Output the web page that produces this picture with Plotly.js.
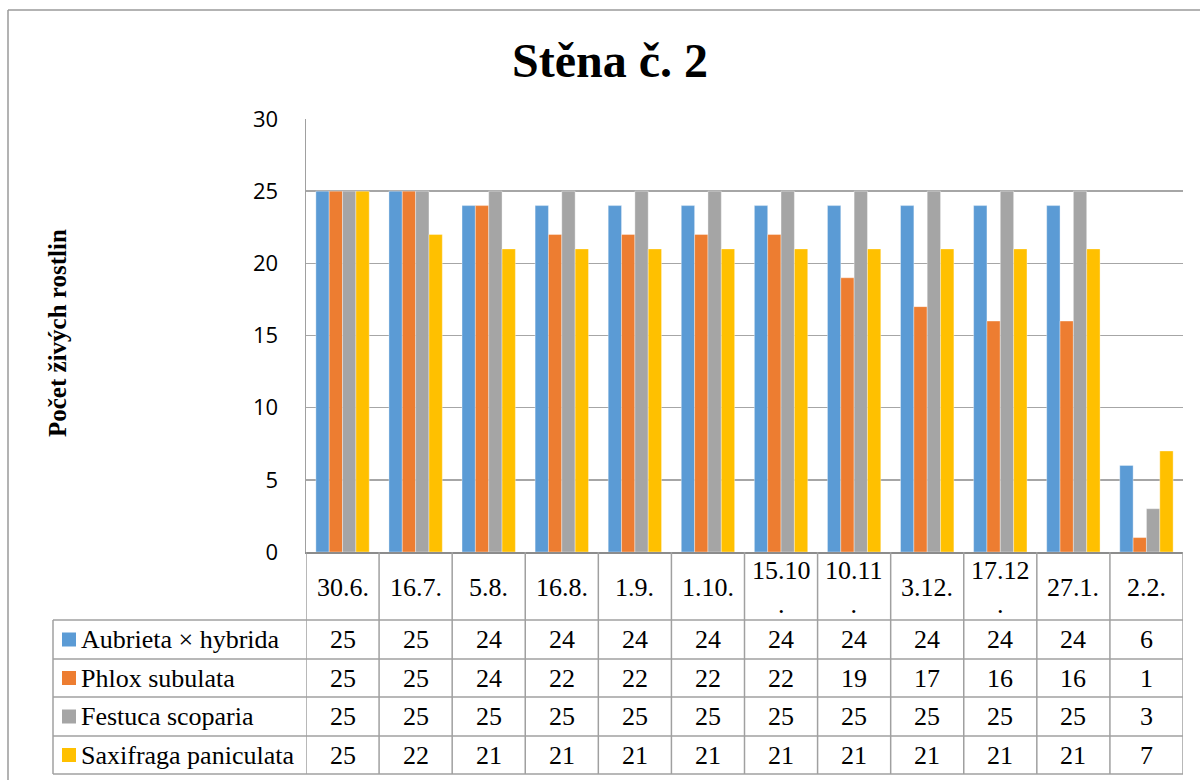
<!DOCTYPE html>
<html>
<head>
<meta charset="utf-8">
<script src="https://cdn.plot.ly/plotly-3.0.1.min.js"></script>
<style>html,body{margin:0;padding:0;background:#fff;}#chart{width:1200px;height:780px;}</style>
</head>
<body>
<div id="chart"></div>
<script>
const categories = ['30.6.', '16.7.', '5.8.', '16.8.', '1.9.', '1.10.', '15.10.', '10.11.', '3.12.', '17.12.', '27.1.', '2.2.'];
const seriesNames = ['Aubrieta × hybrida', 'Phlox subulata', 'Festuca scoparia', 'Saxifraga paniculata'];
const aubrieta  = [25, 25, 24, 24, 24, 24, 24, 24, 24, 24, 24, 6];
const phlox     = [25, 25, 24, 22, 22, 22, 22, 19, 17, 16, 16, 1];
const festuca   = [25, 25, 25, 25, 25, 25, 25, 25, 25, 25, 25, 3];
const saxifraga = [25, 22, 21, 21, 21, 21, 21, 21, 21, 21, 21, 7];
const yTicks = [0, 5, 10, 15, 20, 25, 30];

const seriesValues = [aubrieta, phlox, festuca, saxifraga];
const colors = ['#5B9BD5', '#ED7D31', '#A5A5A5', '#FFC000'];

const W = 1200, H = 780;
const L = 306, R = 1183, T = 119, B = 552;
const px2x = p => (p - L) / (R - L);
const px2y = p => (B - p) / (B - T);

const traces = seriesValues.map((vals, i) => ({
  type: 'bar',
  name: seriesNames[i],
  x: categories.map((c, k) => k),
  y: vals,
  marker: {color: colors[i], line: {color: 'rgba(255,255,255,0.6)', width: 0.6}},
  hoverinfo: 'y',
  showlegend: false
}));

const lineColor = '#a0a0a0';
const shapes = [];
const annotations = [];
const tableFont = {family: 'Liberation Serif, Times New Roman, serif', size: 26, color: '#000'};

// outer chart border
shapes.push({type:'line', xref:'paper', yref:'paper', x0:px2x(8), x1:px2x(1200), y0:px2y(10), y1:px2y(10), line:{color:'#9a9a9a', width:1.5}});
shapes.push({type:'line', xref:'paper', yref:'paper', x0:px2x(8), x1:px2x(8), y0:px2y(10), y1:px2y(780), line:{color:'#9a9a9a', width:1.5}});

// table row boundaries
const rowLines = [620, 659, 697, 736, 774];
rowLines.forEach(p => {
  shapes.push({type:'line', xref:'paper', yref:'paper', x0:px2x(53), x1:1, y0:px2y(p), y1:px2y(p), line:{color:lineColor, width:1.5}});
});
// left border of row-label column
shapes.push({type:'line', xref:'paper', yref:'paper', x0:px2x(53), x1:px2x(53), y0:px2y(620), y1:px2y(774), line:{color:lineColor, width:1.5}});
// column boundaries
for (let k = 0; k <= categories.length; k++) {
  shapes.push({type:'line', xref:'x', yref:'paper', x0:k-0.5, x1:k-0.5, y0:0, y1:px2y(774), line:{color:lineColor, width:1.5}});
}

// header (category) labels
categories.forEach((c, k) => {
  const txt = c.length > 5 ? c.slice(0, 5) + '<br>' + c.slice(5) : c;
  annotations.push({xref:'x', yref:'paper', x:k, y:px2y(587), text:txt, showarrow:false, font:tableFont, xanchor:'center', yanchor:'middle'});
});

// rows
const rowCenters = [639.5, 678, 716.5, 755];
seriesNames.forEach((n, i) => {
  const yc = px2y(rowCenters[i]);
  shapes.push({type:'rect', xref:'paper', yref:'paper', x0:px2x(62), x1:px2x(76), y0:px2y(rowCenters[i]+7), y1:px2y(rowCenters[i]-7), fillcolor:colors[i], line:{width:0}});
  annotations.push({xref:'paper', yref:'paper', x:px2x(79), y:yc, text:n, showarrow:false, font:tableFont, xanchor:'left', yanchor:'middle'});
  seriesValues[i].forEach((v, k) => {
    annotations.push({xref:'x', yref:'paper', x:k, y:yc, text:String(v), showarrow:false, font:tableFont, xanchor:'center', yanchor:'middle'});
  });
});

// y axis title
annotations.push({xref:'paper', yref:'paper', x:px2x(57), y:px2y(333), text:'<b>Počet živých rostlin</b>', textangle:-90, showarrow:false,
  font:{family:'Liberation Serif, Times New Roman, serif', size:25, color:'#000'}, xanchor:'center', yanchor:'middle'});

const layout = {
  width: W, height: H,
  margin: {l: L, r: W - R, t: T, b: H - B, pad: 0},
  paper_bgcolor: '#fff', plot_bgcolor: '#fff',
  title: {text: '<b>Stěna č. 2</b>', xref: 'container', yref: 'container', x: 610 / W, y: 1 - 60 / H, xanchor: 'center', yanchor: 'middle',
    font: {family: 'Liberation Serif, Times New Roman, serif', size: 48, color: '#000'}},
  barmode: 'group', bargap: 0.27, bargroupgap: 0,
  xaxis: {type: 'linear', range: [-0.5, categories.length - 0.5], showticklabels: false, ticks: '', showgrid: false, zeroline: false,
    showline: true, linecolor: '#8c8c8c', linewidth: 2, fixedrange: true},
  yaxis: {range: [0, 30], tickvals: yTicks, ticktext: yTicks.map(String), showgrid: true, gridcolor: '#a6a6a6', gridwidth: 1.5,
    zeroline: false, showline: true, linecolor: '#a0a0a0', linewidth: 1.5, ticks: '', ticklabelstandoff: 22,
    tickfont: {family: 'Open Sans, Liberation Sans, sans-serif', size: 22, color: '#000'}, fixedrange: true},
  shapes: shapes,
  annotations: annotations
};

Plotly.newPlot('chart', traces, layout, {displayModeBar: false, staticPlot: true});
</script>
</body>
</html>
